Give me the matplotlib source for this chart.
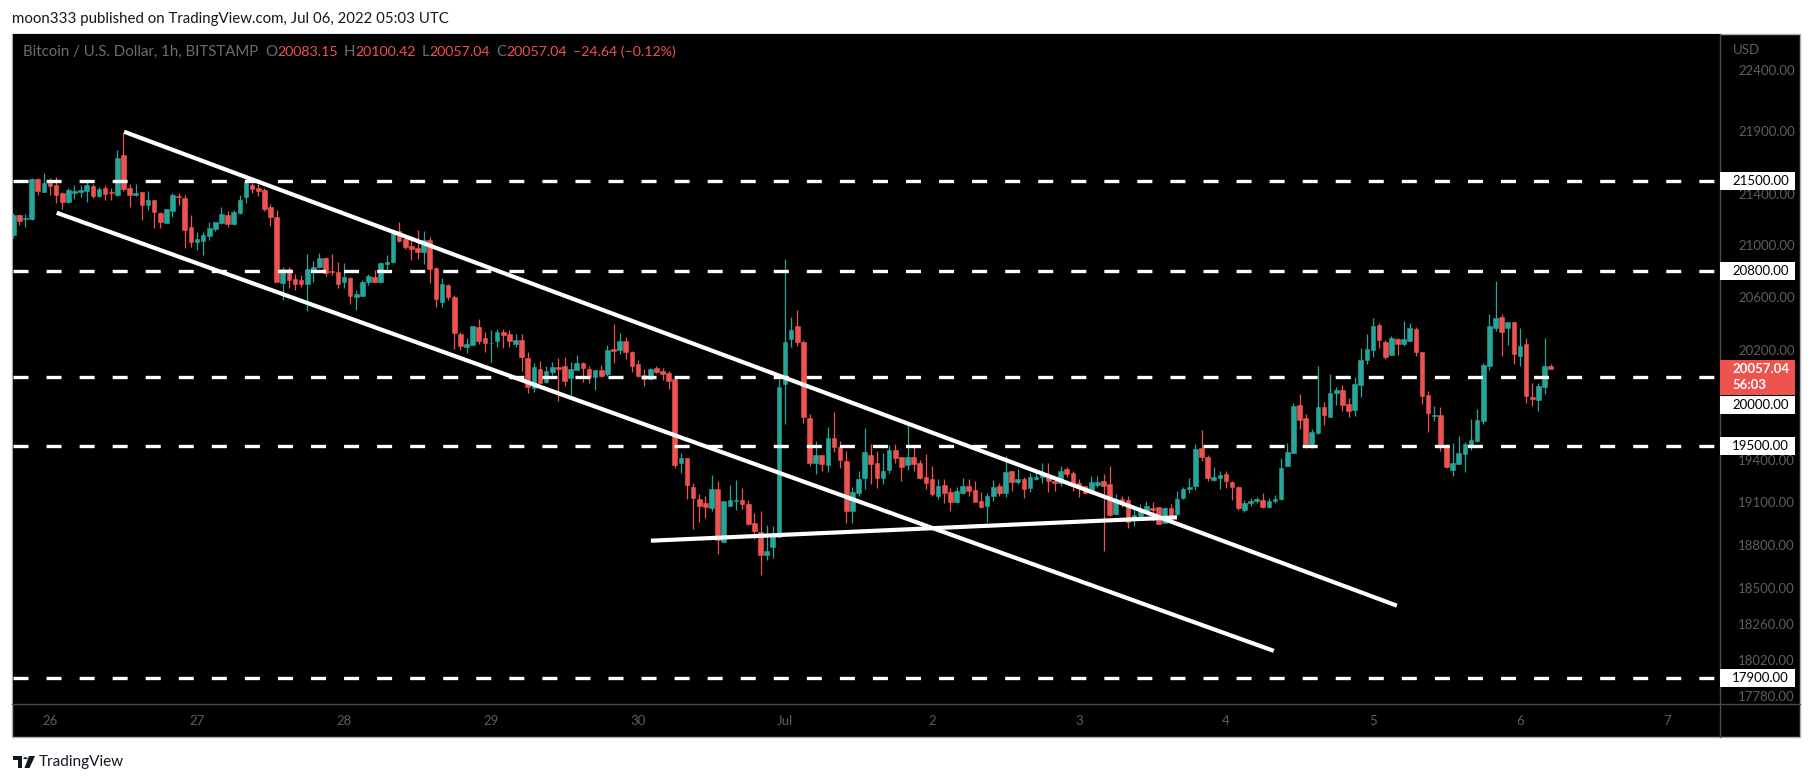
import numpy as np
import matplotlib.pyplot as plt
from matplotlib.patches import Rectangle, Polygon, Circle
from matplotlib.lines import Line2D
from matplotlib.ticker import NullLocator, NullFormatter

plt.rcParams['font.family'] = ['Lato', 'DejaVu Sans']
plt.rcParams['lines.scale_dashes'] = False

UP = '#26a69a'
DOWN = '#ef5350'
AXIS_TXT = '#5e5e5e'

# hourly candles (open, high, low, close), BTC/USD Bitstamp
jun25 = [(21075, 21250, 21055, 21233), (21233, 21241, 21154, 21188), (21199, 21241, 21142, 21207),
         (21200, 21525, 21195, 21514), (21514, 21522, 21390, 21424), (21417, 21567, 21417, 21482)]
jun26 = [(21487, 21522, 21390, 21463), (21466, 21530, 21330, 21390), (21404, 21417, 21278, 21338),
         (21338, 21450, 21330, 21430), (21405, 21470, 21360, 21422), (21417, 21470, 21372, 21432),
         (21424, 21508, 21338, 21466), (21460, 21476, 21364, 21385), (21385, 21455, 21377, 21435),
         (21445, 21470, 21355, 21400), (21417, 21450, 21355, 21404), (21390, 21750, 21385, 21685),
         (21710, 21883, 21422, 21438), (21445, 21476, 21298, 21390), (21393, 21476, 21382, 21406),
         (21414, 21414, 21194, 21312), (21312, 21422, 21273, 21350), (21350, 21355, 21130, 21258),
         (21250, 21258, 21130, 21180), (21172, 21282, 21172, 21282), (21266, 21408, 21220, 21390),
         (21382, 21408, 21312, 21378), (21367, 21390, 20975, 21115), (21142, 21233, 20982, 21025)]
jun27 = [(21025, 21098, 20960, 21045), (21033, 21103, 20922, 21077), (21069, 21180, 21038, 21132),
         (21127, 21180, 21110, 21178), (21170, 21295, 21163, 21245), (21233, 21265, 21142, 21163),
         (21163, 21273, 21155, 21258), (21250, 21390, 21245, 21350), (21378, 21515, 21330, 21493),
         (21470, 21483, 21410, 21440), (21445, 21476, 21382, 21422), (21432, 21443, 21263, 21280),
         (21295, 21320, 21147, 21220), (21215, 21273, 20717, 20717), (20709, 20833, 20578, 20812),
         (20815, 20833, 20667, 20730), (20738, 20780, 20656, 20702), (20730, 20768, 20680, 20702),
         (20702, 20930, 20496, 20815), (20792, 20877, 20717, 20830), (20833, 20935, 20820, 20899),
         (20899, 20910, 20760, 20786), (20800, 20930, 20768, 20795), (20792, 20865, 20672, 20697)]
jun28 = [(20715, 20860, 20667, 20753), (20745, 20755, 20545, 20610), (20603, 20652, 20500, 20623),
         (20610, 20730, 20608, 20712), (20712, 20775, 20690, 20760), (20750, 20807, 20712, 20717),
         (20717, 20865, 20712, 20860), (20850, 20923, 20812, 20870), (20870, 21122, 20860, 21108),
         (21108, 21180, 21025, 21030), (21045, 21058, 20972, 20987), (20993, 21050, 20883, 20970),
         (20978, 21115, 20890, 20945), (20945, 21110, 20853, 21038), (21040, 21065, 20705, 20817),
         (20822, 20833, 20527, 20585), (20565, 20742, 20527, 20700), (20690, 20700, 20578, 20600),
         (20600, 20615, 20210, 20330), (20320, 20340, 20200, 20234), (20225, 20290, 20180, 20245),
         (20240, 20380, 20240, 20380), (20372, 20435, 20245, 20270), (20290, 20340, 20186, 20255)]
jun29 = [(20252, 20355, 20115, 20255), (20270, 20360, 20225, 20340), (20333, 20360, 20220, 20315),
         (20320, 20355, 20225, 20270), (20245, 20325, 20225, 20275), (20275, 20320, 20045, 20150),
         (20145, 20190, 19885, 19925), (19918, 20103, 19888, 20075), (20060, 20118, 19960, 19960),
         (19967, 20083, 19955, 20045), (20040, 20110, 20015, 20075), (20075, 20145, 19825, 20060),
         (20080, 20148, 19937, 19975), (19995, 20110, 19870, 20060), (20055, 20165, 20050, 20103),
         (20105, 20110, 19965, 20065), (20058, 20085, 19960, 20004), (20004, 20053, 19905, 20050),
         (20053, 20090, 20004, 20010), (20023, 20238, 20010, 20200), (20210, 20395, 20108, 20197),
         (20200, 20327, 20170, 20268), (20268, 20298, 20135, 20188), (20190, 20193, 20037, 20085)]
jun30 = [(20098, 20130, 19998, 20010), (20016, 20060, 19937, 19984), (19985, 20070, 19980, 20060),
         (20070, 20085, 20030, 20040), (20045, 20065, 19980, 20026), (20033, 20045, 19912, 19975),
         (19985, 19996, 19343, 19362), (19380, 19445, 19308, 19412), (19412, 19412, 19124, 19222),
         (19205, 19232, 18911, 19130), (19120, 19155, 18962, 19070), (19092, 19140, 18990, 19067),
         (19058, 19290, 19038, 19190), (19190, 19250, 18740, 18835), (18823, 19105, 18823, 19105),
         (19070, 19223, 19070, 19113), (19110, 19255, 19043, 19115), (19115, 19200, 19050, 19088),
         (19088, 19115, 18938, 18945), (18950, 19022, 18840, 18896), (18890, 19036, 18593, 18730),
         (18730, 18935, 18696, 18757), (18785, 18930, 18710, 18876), (18855, 19985, 18855, 19930)]
jul01 = [(19952, 20890, 19657, 20262), (20287, 20450, 20225, 20355), (20380, 20505, 20235, 20265),
         (20262, 20275, 19665, 19710), (19700, 19727, 19355, 19378), (19378, 19535, 19295, 19433),
         (19433, 19433, 19323, 19370), (19363, 19635, 19316, 19555), (19555, 19745, 19458, 19495),
         (19490, 19535, 19343, 19400), (19390, 19462, 18953, 19038), (19038, 19205, 18950, 19170),
         (19163, 19322, 19144, 19260), (19270, 19630, 19195, 19455), (19433, 19512, 19230, 19372),
         (19376, 19462, 19200, 19272), (19272, 19450, 19230, 19320), (19330, 19505, 19302, 19470),
         (19470, 19512, 19380, 19415), (19420, 19420, 19250, 19350), (19365, 19665, 19330, 19420),
         (19420, 19498, 19323, 19372), (19376, 19398, 19260, 19272), (19276, 19440, 19195, 19236)]
jul02 = [(19262, 19355, 19145, 19156), (19145, 19262, 19124, 19212), (19220, 19262, 19095, 19160),
         (19170, 19198, 19040, 19102), (19102, 19205, 19090, 19177), (19166, 19267, 19156, 19212),
         (19212, 19262, 19145, 19180), (19184, 19248, 19100, 19102), (19105, 19170, 19058, 19066),
         (19075, 19163, 18960, 19145), (19145, 19255, 19110, 19205), (19212, 19232, 19145, 19166),
         (19166, 19428, 19135, 19315), (19320, 19320, 19180, 19240), (19240, 19332, 19225, 19260),
         (19266, 19275, 19130, 19195), (19200, 19305, 19172, 19275), (19262, 19312, 19255, 19275),
         (19275, 19380, 19236, 19300), (19292, 19380, 19172, 19245), (19245, 19275, 19176, 19236),
         (19236, 19355, 19210, 19318), (19333, 19348, 19280, 19300), (19305, 19320, 19180, 19222)]
jul03 = [(19236, 19265, 19136, 19215), (19215, 19215, 19155, 19160), (19160, 19283, 19160, 19240),
         (19218, 19283, 19206, 19240), (19245, 19300, 18757, 19212), (19225, 19355, 19000, 19008),
         (19016, 19155, 19005, 19120), (19120, 19140, 19068, 19110), (19115, 19140, 18920, 18962),
         (18980, 19060, 18930, 19008), (19002, 19085, 18998, 19037), (19032, 19107, 19018, 19070),
         (19056, 19100, 18967, 19046), (19063, 19063, 18947, 18947), (18955, 19063, 18950, 19056),
         (19056, 19085, 18997, 19008), (19016, 19177, 19008, 19120), (19128, 19208, 19124, 19190),
         (19190, 19268, 19160, 19205), (19215, 19512, 19185, 19477), (19487, 19614, 19390, 19423),
         (19420, 19435, 19245, 19272), (19255, 19348, 19245, 19276), (19272, 19322, 19195, 19290)]
jul04 = [(19300, 19318, 19200, 19245), (19240, 19248, 19115, 19205), (19205, 19212, 19042, 19058),
         (19042, 19115, 19030, 19092), (19092, 19128, 19070, 19107), (19107, 19135, 19092, 19120),
         (19115, 19163, 19058, 19063), (19063, 19128, 19058, 19107), (19107, 19148, 19095, 19120),
         (19120, 19412, 19115, 19342), (19352, 19520, 19352, 19455), (19450, 19810, 19445, 19788),
         (19795, 19875, 19620, 19685), (19700, 19730, 19485, 19512), (19512, 19622, 19485, 19600),
         (19590, 20082, 19585, 19780), (19780, 19820, 19650, 19720), (19705, 20022, 19705, 19883),
         (19883, 19928, 19795, 19905), (19905, 19942, 19750, 19798), (19800, 19845, 19710, 19752),
         (19760, 20002, 19715, 19948), (19945, 20220, 19855, 20125), (20126, 20320, 20100, 20209)]
jul05 = [(20204, 20440, 20150, 20380), (20387, 20402, 20220, 20280), (20262, 20278, 20138, 20152),
         (20167, 20305, 20163, 20290), (20283, 20290, 20167, 20250), (20250, 20417, 20228, 20283),
         (20270, 20402, 20268, 20365), (20357, 20372, 20160, 20188), (20190, 20190, 19800, 19865),
         (19868, 19900, 19602, 19740), (19718, 19787, 19680, 19722), (19720, 19780, 19460, 19495),
         (19500, 19512, 19343, 19350), (19330, 19520, 19285, 19376), (19372, 19570, 19372, 19448),
         (19440, 19527, 19310, 19512), (19500, 19695, 19470, 19543), (19533, 19765, 19530, 19685),
         (19680, 20105, 19658, 20090), (20085, 20470, 20055, 20380), (20365, 20720, 20345, 20440),
         (20448, 20470, 20160, 20340), (20365, 20415, 20240, 20415), (20415, 20415, 20100, 20170)]
jul06 = [(20160, 20365, 20085, 20230), (20245, 20290, 19810, 19865), (19855, 19957, 19785, 19843),
         (19835, 19957, 19752, 19935), (19930, 20295, 19880, 20083), (20083.15, 20100.42, 20057.04, 20057.04)]

day_labels = ['26', '27', '28', '29', '30', 'Jul', '2', '3', '4', '5', '6', '7']
price_ticks = [22400, 21900, 21400, 21000, 20600, 20200, 19400, 19100, 18800, 18500, 18260, 18020, 17780]
levels = [21500, 20800, 20000, 19500, 17900]
# drawn trend lines: (hour from Jun 26 00:00, price) pairs
trend_lines = [((12.1, 21896), (219.9, 18383)),
               ((1.1, 21251), (199.8, 18079)),
               ((98.1, 18829), (184.0, 18992))]
last_price = 20057.04
countdown = '56:03'
change_text = '\u221224.64 (\u22120.12%)'

candles = np.array(jun25 + jun26 + jun27 + jun28 + jun29 + jun30 +
                   jul01 + jul02 + jul03 + jul04 + jul05 + jul06)
opens, highs, lows, closes = candles.T
hours = np.arange(-6, -6 + len(candles))

W, H = 1813, 783
fig = plt.figure(figsize=(W / 100, H / 100), dpi=100)
fig.patch.set_facecolor('white')


def fx(px):
    return px / W


def fy(py):
    return 1 - py / H


# chart panel
fig.add_artist(Rectangle((fx(12), fy(737)), fx(1800) - fx(12), fy(34) - fy(737),
                         transform=fig.transFigure, facecolor='black',
                         edgecolor='#a9acb4', lw=1, zorder=-1))

ax = fig.add_axes([fx(13), fy(704), fx(1720) - fx(13), fy(34) - fy(704)])
ax.set_facecolor('black')
ax.set_yscale('log')
ax.set_xlim(-6.04, 272.65)
ax.set_ylim(17728, 22700)
for s in ax.spines.values():
    s.set_visible(False)

ax.yaxis.tick_right()
ax.set_yticks(price_ticks, [f'{v:.2f}' for v in price_ticks])
ax.yaxis.set_minor_locator(NullLocator())
ax.yaxis.set_minor_formatter(NullFormatter())
ax.tick_params(axis='y', length=0, pad=13, colors=AXIS_TXT, labelsize=9.5)
ax.set_xticks(np.arange(0, 24 * len(day_labels), 24), day_labels)
ax.tick_params(axis='x', length=0, pad=8, colors=AXIS_TXT, labelsize=9.5)

# candles
colors = np.where(closes >= opens, UP, DOWN)
ax.vlines(hours, lows, highs, colors=colors, lw=0.9, zorder=2)
body_lo = np.minimum(opens, closes)
body_hi = np.maximum(opens, closes)
ax.bar(hours, body_hi - body_lo, bottom=body_lo, width=0.76, color=colors,
       edgecolor=colors, lw=0.4, zorder=3)

# horizontal levels and trend lines
for p in levels:
    ax.axhline(p, color='white', lw=2.4, dashes=(10.8, 13), zorder=4)
for (x0, y0), (x1, y1) in trend_lines:
    ax.plot([x0, x1], [y0, y1], color='white', lw=3, solid_capstyle='butt', zorder=5)

# separators of the price and time scales
fig.add_artist(Line2D([fx(12), fx(1800)], [fy(704), fy(704)], color='#4c4c4c', lw=1))
fig.add_artist(Line2D([fx(1720), fx(1720)], [fy(34), fy(737)], color='#4c4c4c', lw=1))

fig.text(fx(1733), fy(50), 'USD', color=AXIS_TXT, fontsize=9.5, va='center')


def price_py(p):
    # pixel row (from top) of a price
    return H - ax.transData.transform((0, p))[1]


# current price box
cy = price_py(last_price)
red_top, red_bot = cy - 9.5, cy + 25.5
fig.add_artist(Rectangle((fx(1720), fy(red_bot)), fx(1795) - fx(1720), fy(red_top) - fy(red_bot),
                         transform=fig.transFigure, facecolor=DOWN, edgecolor='none', zorder=6))
fig.text(fx(1732), fy(cy), f'{last_price:.2f}', color='white', fontsize=9.5,
         fontweight='bold', va='center', zorder=7)
fig.text(fx(1732), fy(cy + 16), countdown, color='white', fontsize=9.5,
         fontweight='bold', va='center', zorder=7)

# level labels on the price scale
for p in levels:
    c = price_py(p)
    if c + 9 > red_top and c - 9 < red_bot:
        c = red_bot + 1 + 9.5
    fig.add_artist(Rectangle((fx(1720), fy(c + 9)), fx(1795) - fx(1720), fy(c - 9) - fy(c + 9),
                             transform=fig.transFigure, facecolor='white', edgecolor='none', zorder=6))
    fig.text(fx(1732), fy(c), f'{p:.2f}', color='black', fontsize=9.5, va='center', zorder=7)

# header
fig.text(fx(12), fy(18.5), 'moon333 published on TradingView.com, Jul 06, 2022 05:03 UTC',
         color='#131722', fontsize=10.8, va='center')

# legend row: (text, colour, size, gap after)
o, h, l, c = candles[-1]
legend = [('Bitcoin / U.S. Dollar, 1h, BITSTAMP', '#6a6d78', 10.8, 7),
          ('O', '#6a6d78', 10.8, 0), (f'{o:.2f}', DOWN, 10.2, 6),
          ('H', '#6a6d78', 10.8, 0), (f'{h:.2f}', DOWN, 10.2, 6),
          ('L', '#6a6d78', 10.8, 0), (f'{l:.2f}', DOWN, 10.2, 6),
          ('C', '#6a6d78', 10.8, 0), (f'{c:.2f}', DOWN, 10.2, 6),
          (change_text, DOWN, 10.2, 0)]
renderer = fig.canvas.get_renderer()
x = 23
for txt, col, size, gap in legend:
    t = fig.text(fx(x), fy(52), txt, color=col, fontsize=size, va='center')
    x += t.get_window_extent(renderer=renderer).width + gap

# TradingView mark
fig.add_artist(Polygon([(fx(13), fy(756)), (fx(22), fy(756)), (fx(22), fy(768)),
                        (fx(18), fy(768)), (fx(18), fy(760)), (fx(13), fy(760))],
                       closed=True, transform=fig.transFigure, facecolor='#131722'))
fig.add_artist(Circle((fx(25.5), fy(758.2)), 2.2 / W, transform=fig.transFigure, facecolor='#131722'))
fig.add_artist(Polygon([(fx(29), fy(756)), (fx(35), fy(756)), (fx(29.5), fy(768)), (fx(24.5), fy(768))],
                       closed=True, transform=fig.transFigure, facecolor='#131722'))
fig.text(fx(39), fy(762), 'TradingView', color='#131722', fontsize=11, va='center')

fig.savefig('out.png', dpi=100, facecolor='white')
